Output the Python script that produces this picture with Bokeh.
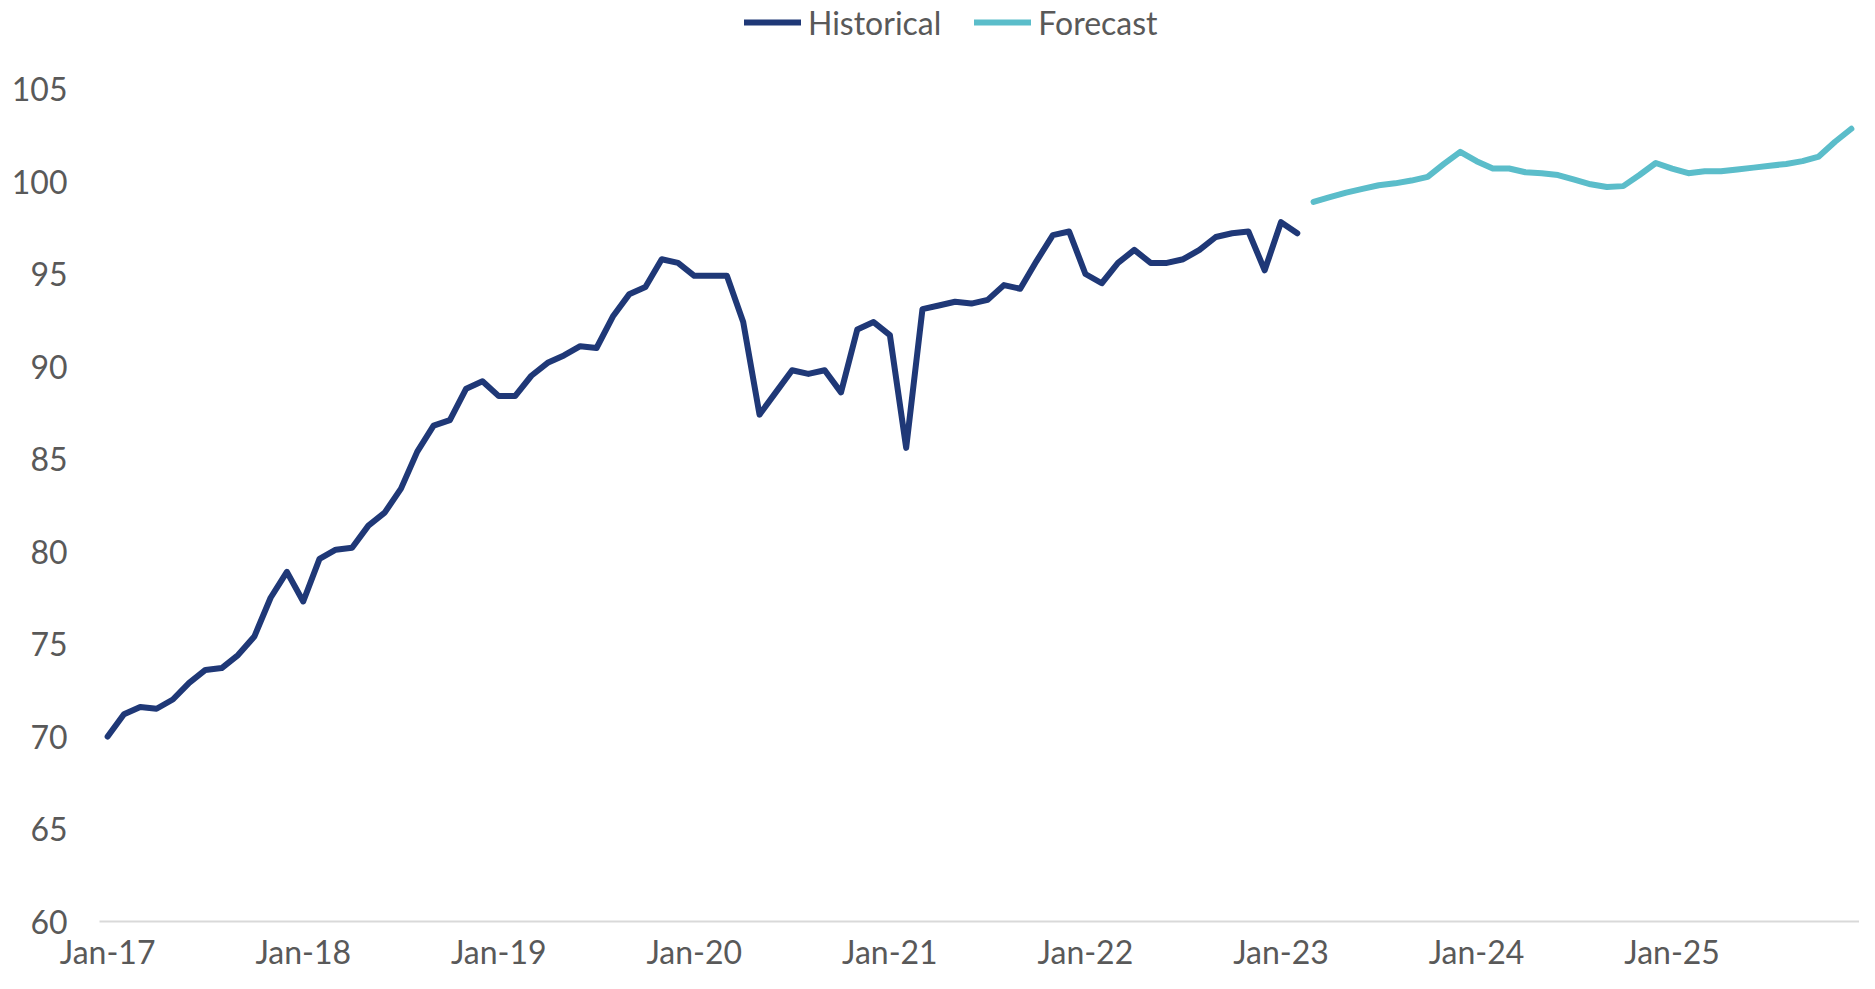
from bokeh.plotting import figure
from bokeh.models import Range1d, FixedTicker, Legend, LegendItem, ColumnDataSource
from bokeh.embed import file_html
from bokeh.resources import INLINE

month_names = ["Jan", "Feb", "Mar", "Apr", "May", "Jun",
               "Jul", "Aug", "Sep", "Oct", "Nov", "Dec"]
month_labels = [f"{m}-{y}" for y in range(17, 26) for m in month_names]

historical = [
    70.0, 71.2, 71.6, 71.5, 72.0, 72.9, 73.6, 73.7, 74.4, 75.4, 77.5, 78.9,
    77.3, 79.6, 80.1, 80.2, 81.4, 82.1, 83.4, 85.4, 86.8, 87.1, 88.8, 89.2,
    88.4, 88.4, 89.5, 90.2, 90.6, 91.1, 91.0, 92.7, 93.9, 94.3, 95.8, 95.6,
    94.9, 94.9, 94.9, 92.4, 87.4, 88.6, 89.8, 89.6, 89.8, 88.6, 92.0, 92.4,
    91.7, 85.6, 93.1, 93.3, 93.5, 93.4, 93.6, 94.4, 94.2, 95.7, 97.1, 97.3,
    95.0, 94.5, 95.6, 96.3, 95.6, 95.6, 95.8, 96.3, 97.0, 97.2, 97.3, 95.2,
    97.8, 97.2,
]
forecast = [
    98.9, 99.15, 99.4, 99.6, 99.8, 99.9, 100.05, 100.25, 100.95, 101.6,
    101.1, 100.7, 100.7, 100.5, 100.45, 100.35, 100.1, 99.85, 99.7, 99.75,
    100.35, 101.0, 100.7, 100.45, 100.55, 100.55, 100.65, 100.75, 100.85,
    100.95, 101.1, 101.35, 102.15, 102.85,
]
y_ticks = [60, 65, 70, 75, 80, 85, 90, 95, 100, 105]

hist_src = ColumnDataSource(dict(x=list(range(len(historical))), y=historical,
                                 m=month_labels[:len(historical)]))
fc_start = len(historical)
fc_src = ColumnDataSource(dict(x=list(range(fc_start, fc_start + len(forecast))), y=forecast,
                               m=month_labels[fc_start:fc_start + len(forecast)]))

FONT = "Lato"
GREY = "#595959"
FS = "32px"

W, H = 1859, 973
LEFT, BOTTOM = 99, 52
# the frame reaches the top edge so the legend can sit inside it;
# the y range above 105 is blank headroom (105 sits ~88px below the top)
frame_h = H - BOTTOM
px_per_unit = (frame_h - 88.5) / (105 - 60)
y_top = 105 + 88.5 / px_per_unit

p = figure(width=W, height=H,
           x_range=Range1d(-0.5, len(month_labels) - 0.5),
           y_range=Range1d(60, y_top),
           output_backend="svg", toolbar_location=None,
           min_border_left=LEFT, min_border_right=0,
           min_border_top=0, min_border_bottom=BOTTOM)
p.outline_line_color = None
p.grid.visible = False
p.background_fill_color = "white"
p.border_fill_color = "white"

r_hist = p.line("x", "y", source=hist_src, line_color="#1f3877", line_width=6,
                line_join="round", line_cap="round")
r_fc = p.line("x", "y", source=fc_src, line_color="#5bbdca", line_width=6,
              line_join="round", line_cap="round")

xa = p.xaxis[0]
jan_idx = [i for i, m in enumerate(month_labels) if m.startswith("Jan")]
xa.ticker = FixedTicker(ticks=jan_idx)
xa.major_label_overrides = {i: month_labels[i] for i in jan_idx}
xa.major_tick_line_color = None
xa.minor_tick_line_color = None
xa.axis_line_color = "#d9d9d9"
xa.axis_line_width = 2
xa.major_label_text_font = FONT
xa.major_label_text_font_size = FS
xa.major_label_text_color = GREY
xa.major_label_standoff = 4

ya = p.yaxis[0]
ya.ticker = FixedTicker(ticks=y_ticks)
ya.major_tick_line_color = None
ya.minor_tick_line_color = None
ya.axis_line_color = None
ya.major_label_text_font = FONT
ya.major_label_text_font_size = FS
ya.major_label_text_color = GREY
ya.major_label_standoff = 26

legend = Legend(items=[LegendItem(label="Historical", renderers=[r_hist]),
                       LegendItem(label="Forecast", renderers=[r_fc])],
                orientation="horizontal", location=(645, frame_h - 22 - 20),
                padding=0, margin=0, spacing=33, label_standoff=7,
                glyph_width=57, glyph_height=40, label_height=40,
                border_line_color=None, background_fill_alpha=0,
                label_text_font=FONT, label_text_font_size=FS,
                label_text_color=GREY)
p.add_layout(legend, "center")

open("out.html", "w").write(file_html(p, INLINE))
